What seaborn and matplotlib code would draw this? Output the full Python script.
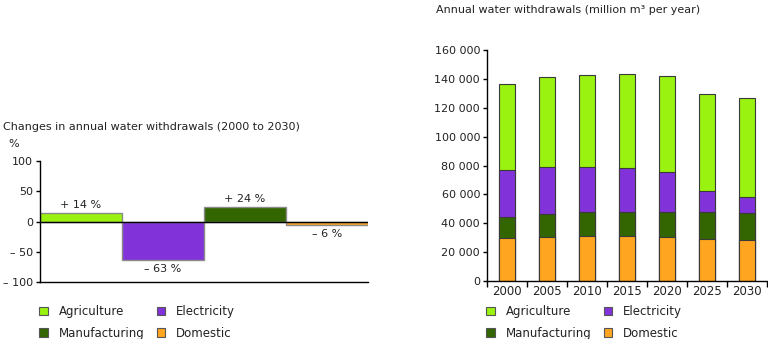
import matplotlib
matplotlib.use("Agg")
import matplotlib.pyplot as plt
import matplotlib.patches as mpatches
from matplotlib.ticker import FuncFormatter, FixedLocator
import seaborn as sns
import pandas as pd
import numpy as np

# ---- data ----
sectors = ["Agriculture", "Electricity", "Manufacturing", "Domestic"]
change_pct = [14, -63, 24, -6]
change_labels = ["+ 14 %", "– 63 %", "+ 24 %", "– 6 %"]

years = ["2000", "2005", "2010", "2015", "2020", "2025", "2030"]
domestic = [29500, 30700, 31200, 31200, 30200, 29300, 28100]
manufacturing = [14900, 15600, 16500, 16900, 17900, 18400, 18900]
electricity = [32400, 32800, 31400, 30300, 27500, 14400, 11400]
agriculture = [59800, 61900, 63300, 64700, 66100, 67200, 68500]

colors = {"Agriculture": "#99f20f", "Electricity": "#8133d9",
          "Manufacturing": "#336600", "Domestic": "#ffa51f"}

sns.set_theme(style="white")
plt.rcParams["font.family"] = ["DejaVu Sans"]
plt.rcParams["font.size"] = 8
TXT = "#222222"

fig = plt.figure(figsize=(7.68, 3.39), dpi=100)

# ---- left chart ----
axL = fig.add_axes([40/768, 1-282.3/339, (367.7-40)/768, (282.3-160.7)/339])
dfL = pd.DataFrame({"sector": sectors, "pct": change_pct})
sns.barplot(data=dfL, x="sector", y="pct", hue="sector", palette=colors,
            width=1.0, edgecolor="#8a8a8a", linewidth=1.0, legend=False, ax=axL,
            saturation=1)
axL.set_xlim(-0.5, 3.5)
axL.set_ylim(-100, 100)
axL.axhline(0, color="black", lw=1.0, zorder=5)
axL.set_yticks([100, 50, 0, -50, -100])
axL.set_yticklabels(["100", "50", "0", "– 50", "– 100"], color=TXT, fontsize=8)
axL.set_xticks([])
axL.set_xlabel("")
axL.set_ylabel("")
for s in ["top", "right"]:
    axL.spines[s].set_visible(False)
for s in ["left", "bottom"]:
    axL.spines[s].set_color("black")
    axL.spines[s].set_linewidth(1.0)
axL.tick_params(axis="y", which="major", direction="out", length=3, width=1,
                color="black", pad=2, left=True)
for i, (v, lab) in enumerate(zip(change_pct, change_labels)):
    off = 2 if v >= 0 else -3
    axL.annotate(lab, (i, v), xytext=(0, off), textcoords="offset points",
                 ha="center", va="bottom" if v >= 0 else "top", fontsize=8, color=TXT)
fig.text(3/768, 1-127/339, "Changes in annual water withdrawals (2000 to 2030)",
         fontsize=8, color=TXT, va="center", ha="left")
fig.text(8/768, 1-144/339, "%", fontsize=8, color=TXT, va="center", ha="left")

# ---- right chart ----
axR = fig.add_axes([487/768, 1-281/339, (767-487)/768, (281-50)/339])
dom = np.array(domestic)
man = dom + np.array(manufacturing)
ele = man + np.array(electricity)
tot = ele + np.array(agriculture)
layers = [("Agriculture", tot), ("Electricity", ele),
          ("Manufacturing", man), ("Domestic", dom)]
for name, vals in layers:
    d = pd.DataFrame({"year": years, "v": vals})
    sns.barplot(data=d, x="year", y="v", color=colors[name], saturation=1,
                width=0.4, edgecolor="#3a3a3a", linewidth=0.8, ax=axR)
axR.set_xlim(-0.5, 6.5)
axR.set_ylim(0, 160000)
axR.set_yticks(np.arange(0, 160001, 20000))
axR.yaxis.set_major_formatter(FuncFormatter(lambda v, p: f"{int(v):,}".replace(",", " ")))
axR.xaxis.set_minor_locator(FixedLocator(np.arange(-0.5, 7, 1)))
axR.tick_params(axis="x", which="major", length=0, pad=3, labelsize=8.5, colors=TXT)
axR.tick_params(axis="x", which="minor", length=4, width=1, color="black", direction="out", bottom=True)
axR.tick_params(axis="y", which="major", length=3, width=1, color="black", direction="out",
                left=True, labelsize=8, labelcolor=TXT, pad=2)
axR.set_xlabel("")
axR.set_ylabel("")
for s in ["top", "right"]:
    axR.spines[s].set_visible(False)
for s in ["left", "bottom"]:
    axR.spines[s].set_color("black")
    axR.spines[s].set_linewidth(1.0)
fig.text(436/768, 1-10/339, "Annual water withdrawals (million m³ per year)",
         fontsize=8, color=TXT, va="center", ha="left")

# ---- legends ----
order = ["Agriculture", "Manufacturing", "Electricity", "Domestic"]
def handles():
    return [mpatches.Patch(facecolor=colors[n], edgecolor="#555555", lw=0.8, label=n) for n in order]

for x0 in (39/768, 486/768):
    leg = fig.legend(handles=handles(), loc="upper left", bbox_to_anchor=(x0, 1-305/339),
                     ncol=2, frameon=False, fontsize=8.5, handlelength=0.75, handleheight=0.75,
                     handletextpad=0.9, columnspacing=1.05, labelspacing=0.75, borderpad=0,
                     borderaxespad=0)
    for t in leg.get_texts():
        t.set_color(TXT)

fig.savefig("out.png", dpi=100, facecolor="white")
